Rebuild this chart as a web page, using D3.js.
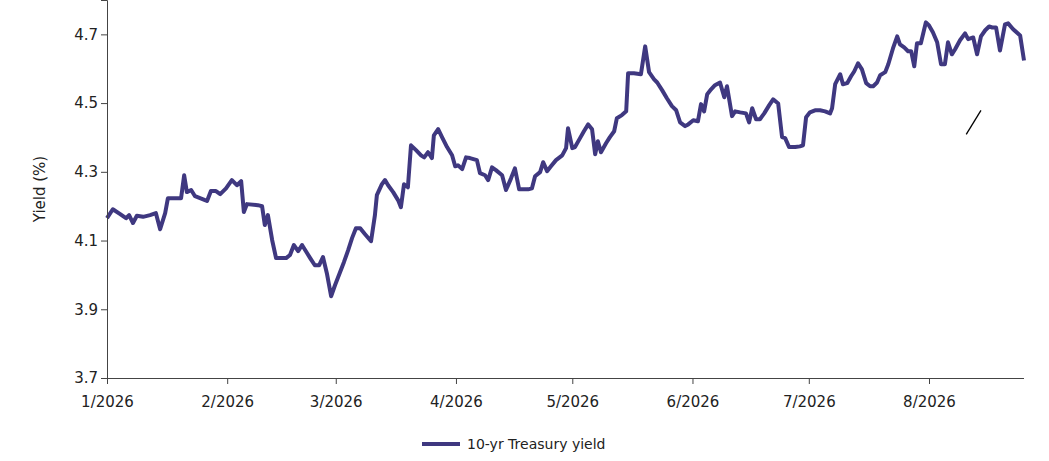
<!DOCTYPE html>
<html>
<head>
<script src="https://d3js.org/d3.v7.min.js"></script>
<style>body{margin:0;background:#fff;font-family:"DejaVu Sans",sans-serif;}</style>
</head>
<body>
<div id="container"></div>
<script>
const width = 1049, height = 461;
const margin = { top: 0, right: 25, bottom: 83, left: 107 };

// days since 1 Jan 2026
const days = [0,1.5,3.4,4.9,5.7,6.7,7.7,9.3,11.1,12.6,13.7,15.0,15.7,17.8,19.1,19.9,20.6,21.7,22.7,24.8,25.8,26.8,28.1,29.2,30.7,32.2,33.5,34.6,35.3,36.1,38.9,40.0,40.7,41.5,42.6,43.6,46.2,47.2,48.2,49.3,50.3,51.3,52.4,53.6,54.7,55.7,56.7,57.8,58.8,60.1,61.1,62.2,63.2,64.2,65.3,66.5,68.1,69.1,69.6,70.9,71.7,72.5,73.8,75.1,75.8,76.6,77.6,78.4,79.7,81.0,81.8,82.8,83.8,84.3,85.4,86.4,87.7,89.0,89.8,90.5,91.6,92.6,93.6,95.4,96.2,97.5,98.3,99.3,100.3,101.9,102.9,104.2,105.2,106.3,108.6,109.6,110.4,111.7,112.5,113.5,114.5,115.8,117.4,118.4,118.9,120.0,120.7,122.0,123.0,124.1,125.1,125.9,126.6,127.4,128.7,129.7,130.8,131.5,132.8,133.9,134.4,135.9,137.7,138.8,139.8,141.1,141.9,143.2,144.4,145.7,146.8,147.8,149.1,149.9,151.2,152.4,153.2,154.0,154.8,155.8,156.8,158.1,159.2,159.9,161.2,162.0,163.3,164.8,165.6,166.4,167.4,168.4,169.5,170.8,171.8,173.1,174.1,174.9,175.9,177.5,178.7,179.5,180.3,181.3,182.6,183.9,185.2,186.5,187.0,187.8,189.1,189.8,190.9,191.9,192.7,193.7,194.7,195.8,196.8,197.6,198.6,199.4,200.7,201.5,202.7,203.8,204.5,205.6,206.6,207.4,208.2,208.9,209.9,211.2,212.0,213.0,214.1,215.1,216.1,216.9,217.9,218.7,220.0,221.3,222.1,223.4,224.4,225.4,226.5,227.5,228.3,229.3,230.3,231.6,232.4,233.7,235.5,236.5];
const yields = [4.165,4.191,4.177,4.165,4.174,4.151,4.172,4.169,4.174,4.180,4.133,4.180,4.223,4.223,4.223,4.290,4.241,4.247,4.229,4.220,4.215,4.244,4.244,4.235,4.252,4.276,4.261,4.273,4.183,4.206,4.203,4.200,4.145,4.174,4.101,4.049,4.049,4.058,4.087,4.069,4.087,4.069,4.049,4.028,4.028,4.052,4.005,3.938,3.970,4.008,4.037,4.072,4.107,4.136,4.136,4.119,4.098,4.174,4.232,4.264,4.276,4.261,4.241,4.217,4.197,4.264,4.255,4.377,4.363,4.348,4.342,4.357,4.340,4.406,4.424,4.401,4.372,4.348,4.316,4.319,4.308,4.342,4.340,4.334,4.296,4.290,4.276,4.313,4.305,4.290,4.247,4.281,4.310,4.249,4.249,4.252,4.287,4.299,4.328,4.302,4.316,4.334,4.348,4.369,4.427,4.369,4.372,4.398,4.418,4.438,4.424,4.351,4.389,4.357,4.383,4.401,4.418,4.456,4.465,4.476,4.587,4.587,4.584,4.665,4.590,4.569,4.560,4.537,4.514,4.491,4.479,4.444,4.433,4.438,4.450,4.447,4.497,4.476,4.526,4.540,4.552,4.560,4.517,4.549,4.462,4.476,4.473,4.470,4.444,4.485,4.453,4.453,4.470,4.494,4.511,4.499,4.401,4.398,4.372,4.372,4.374,4.377,4.459,4.473,4.479,4.479,4.476,4.470,4.485,4.555,4.584,4.555,4.558,4.578,4.592,4.616,4.598,4.558,4.549,4.549,4.560,4.581,4.590,4.613,4.659,4.694,4.671,4.662,4.651,4.651,4.607,4.674,4.674,4.735,4.726,4.706,4.677,4.613,4.613,4.677,4.642,4.656,4.683,4.703,4.686,4.691,4.642,4.694,4.712,4.723,4.720,4.720,4.653,4.729,4.732,4.715,4.697,4.624];
// small annotation stroke
const markDays = [221.6, 225.4];
const markVals = [4.409, 4.479];
const yTicks = [3.7, 3.9, 4.1, 4.3, 4.5, 4.7];
const seriesName = "10-yr Treasury yield";

const base = new Date(2026, 0, 1);
const toDate = d => new Date(base.getTime() + d * 86400000);
const color = "#3f3880";

const x = d3.scaleTime()
  .domain([toDate(0), toDate(236.5)])
  .range([margin.left, width - margin.right]);
const y = d3.scaleLinear()
  .domain([3.7, 4.8])
  .range([height - margin.bottom, margin.top]);

const svg = d3.select("#container").append("svg")
  .attr("width", width).attr("height", height);

const line = d3.line().x(d => x(toDate(d[0]))).y(d => y(d[1]));

svg.append("path")
  .datum(days.map((d, i) => [d, yields[i]]))
  .attr("fill", "none").attr("stroke", color).attr("stroke-width", 4)
  .attr("stroke-linejoin", "round")
  .attr("d", line);

svg.append("path")
  .datum(markDays.map((d, i) => [d, markVals[i]]))
  .attr("fill", "none").attr("stroke", "#000").attr("stroke-width", 1.3)
  .attr("d", line);

const xAxis = svg.append("g")
  .attr("transform", `translate(0,${height - margin.bottom})`)
  .call(d3.axisBottom(x).ticks(d3.timeMonth.every(1)).tickSize(6)
    .tickFormat(d => `${d.getMonth() + 1}/${d.getFullYear()}`));
xAxis.select(".domain").attr("d", `M${margin.left},0.5H${width - margin.right}`);

const yAxis = svg.append("g")
  .attr("transform", `translate(${margin.left},0)`)
  .call(d3.axisLeft(y).tickValues(yTicks).tickSize(6).tickFormat(d3.format(".1f")));

svg.selectAll(".tick text").attr("font-family", "DejaVu Sans").attr("font-size", 15).attr("fill", "#222");
xAxis.selectAll(".tick text").attr("dy", "1.3em");
svg.selectAll(".domain, .tick line").attr("stroke", "#444");

svg.append("text")
  .attr("transform", `translate(45,${y(4.25)}) rotate(-90)`)
  .attr("text-anchor", "middle").attr("font-size", 15).attr("fill", "#222")
  .text("Yield (%)");

const lg = svg.append("g").attr("transform", "translate(422,444)");
lg.append("line").attr("x1", 0).attr("x2", 38).attr("stroke", color).attr("stroke-width", 4);
lg.append("text").attr("x", 45).attr("dy", "0.35em").attr("font-size", 14).attr("fill", "#222").text(seriesName);
</script>
</body>
</html>
